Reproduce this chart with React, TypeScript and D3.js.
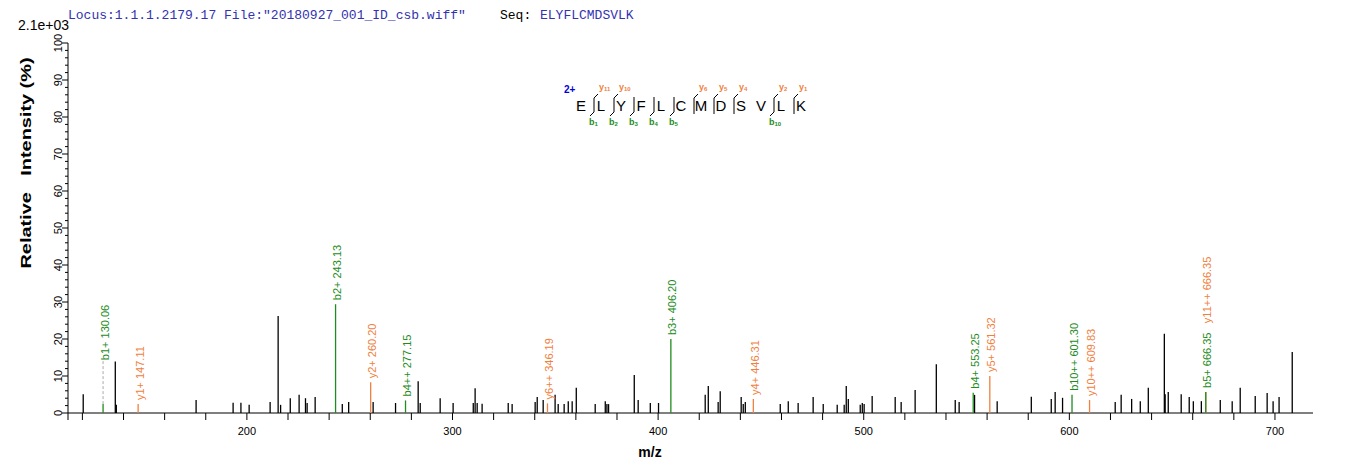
import React from "react";
import * as d3 from "d3";

const W = 1362;
const H = 473;

// unannotated peaks: m/z and relative intensity (%)
const peakMz = [
  120.4, 136.0, 136.5, 175.3, 193.3, 197.1, 201.1, 211.3, 215.2, 216.4, 221.1, 225.4, 228.5, 229.3, 233.2,
  246.4, 249.5, 261.4, 272.3, 283.3, 284.3, 294.0, 300.3, 310.1, 311.0, 312.0, 314.4, 327.1, 329.0,
  340.2, 341.2, 344.1, 349.9, 351.4, 354.3, 356.3, 358.2, 360.2, 369.4, 374.3, 375.1, 375.9, 388.4,
  390.3, 396.2, 400.2, 422.9, 424.4, 429.2, 430.2, 440.4, 441.4, 442.4, 459.4, 463.3, 468.1, 475.4,
  480.3, 487.1, 490.5, 491.5, 492.5, 498.3, 499.3, 500.2, 504.1, 515.3, 518.2, 525.0, 535.3, 544.5,
  546.4, 553.9, 564.9, 581.5, 591.2, 593.1, 596.7, 622.3, 625.2, 630.3, 634.5, 638.4, 646.2, 646.6,
  648.1, 654.4, 658.3, 660.3, 664.2, 673.4, 679.2, 683.1, 690.4, 696.2, 699.1, 702.0, 708.4,
];
const peakInt = [
  5.1, 13.9, 2.2, 3.5, 2.8, 2.8, 2.2, 3.0, 26.2, 2.2, 4.0, 4.9, 4.0, 2.7, 4.3,
  2.4, 3.0, 3.0, 2.7, 8.6, 2.7, 4.0, 2.7, 2.7, 6.7, 2.7, 2.5, 2.7, 2.4,
  3.0, 4.3, 3.5, 4.9, 2.4, 2.4, 3.2, 3.2, 6.8, 2.4, 3.2, 2.4, 2.4, 10.3,
  3.5, 2.7, 2.7, 4.9, 7.3, 3.0, 5.9, 4.3, 2.4, 3.0, 2.4, 3.2, 2.7, 4.3,
  2.4, 2.2, 2.2, 7.3, 3.8, 2.2, 2.7, 2.4, 4.6, 4.3, 3.0, 6.2, 13.2, 3.5,
  3.0, 4.9, 3.2, 4.4, 3.8, 5.7, 4.1, 3.0, 4.9, 3.8, 3.2, 6.8, 21.4, 5.1,
  5.7, 5.1, 4.3, 3.2, 3.2, 3.5, 3.2, 6.8, 4.6, 5.4, 3.2, 4.3, 16.5,
];

// annotated fragment ions
const ionNames = ["b1+", "y1+", "b2+", "y2+", "b4++", "y6++", "b3+", "y4+", "b4+", "y5+", "b10++", "y10++", "y11++", "b5+"];
const ionMz = [130.06, 147.11, 243.13, 260.2, 277.15, 346.19, 406.2, 446.31, 553.25, 561.32, 601.3, 609.83, 666.35, 666.35];
const ionInt = [2.4, 2.4, 29.4, 8.3, 3.4, 2.6, 20.0, 3.8, 5.5, 10.0, 4.9, 3.5, 5.7, 5.7];
// label start level (%) when the label is lifted above its peak (null = right above peak)
const ionLabelAt: (number | null)[] = [13.2, null, null, null, null, null, null, null, null, null, null, null, 23.2, null];

const xTicks = [200, 300, 400, 500, 600, 700];
const yTicks = [0, 10, 20, 30, 40, 50, 60, 70, 80, 90, 100];

const sequence = "ELYFLCMDSVLK".split("");
const bIons = [1, 2, 3, 4, 5, 10];
const yIons = [11, 10, 6, 5, 4, 2, 1];

const GREEN = "#1e8c1e";
const ORANGE = "#f08040";
const BLUE = "#3333b0";

export default function App() {
  const x = d3.scaleLinear().domain([113, 718.5]).range([68, 1313]);
  const y = d3.scaleLinear().domain([0, 100]).range([413, 43]);
  const minorX = d3.range(120, 719, 20);
  const minorY = d3.range(0, 101, 2);

  const seqX0 = 581;
  const seqStep = 20;
  const n = sequence.length;
  const cleavages = d3.range(1, n).map((i) => ({
    i,
    b: bIons.find((k) => k === i),
    y: yIons.find((k) => n - k === i),
  }));

  return (
    <svg
      width={W}
      height={H}
      style={{ position: "absolute", left: 0, top: 0, background: "#fff" }}
      fontFamily="Arial, 'Liberation Sans', sans-serif"
    >
      <rect width={W} height={H} fill="#fff" />
      {/* header */}
      <text x={68} y={19} fontFamily="'Liberation Mono', monospace" fontSize={13} fill={BLUE}>
        {'Locus:1.1.1.2179.17 File:"20180927_001_ID_csb.wiff"'}
      </text>
      <text x={500} y={19} fontFamily="'Liberation Mono', monospace" fontSize={13} fill="#000">
        Seq:
      </text>
      <text x={540} y={19} fontFamily="'Liberation Mono', monospace" fontSize={13} fill={BLUE}>
        ELYFLCMDSVLK
      </text>
      <text x={18} y={30} fontSize={14} fill="#000">
        2.1e+03
      </text>

      {/* y axis */}
      <line x1={68} x2={68} y1={y(100)} y2={420} stroke="#000" />
      {minorY.map((v) => (
        <line key={"my" + v} x1={v % 10 === 0 ? 62 : 65} x2={68} y1={y(v)} y2={y(v)} stroke="#000" />
      ))}
      {yTicks.map((v) => (
        <text
          key={"ty" + v}
          transform={`translate(62,${y(v)}) rotate(-90)`}
          textAnchor="middle"
          fontSize={11}
          fill="#000"
        >
          {v}
        </text>
      ))}
      <text
        transform="translate(31,163) rotate(-90)"
        textAnchor="middle"
        fontSize={14}
        fontWeight="bold"
        textLength={211}
        lengthAdjust="spacingAndGlyphs"
        style={{ whiteSpace: "pre" }}
      >
        {"Relative   Intensity (%)"}
      </text>

      {/* x axis */}
      <line x1={68} x2={1313} y1={413} y2={413} stroke="#000" />
      {minorX.map((v) => (
        <line key={"mx" + v} x1={x(v)} x2={x(v)} y1={413} y2={420} stroke="#000" />
      ))}
      {xTicks.map((v) => (
        <text key={"tx" + v} x={x(v)} y={435} textAnchor="middle" fontSize={11} fill="#000">
          {v}
        </text>
      ))}
      <text x={650} y={457} textAnchor="middle" fontSize={14} fontWeight="bold">
        m/z
      </text>

      {/* peaks */}
      {peakMz.map((m, k) => (
        <line key={"p" + k} x1={x(m)} x2={x(m)} y1={y(0)} y2={y(peakInt[k])} stroke="#000" strokeWidth={1.3} />
      ))}
      {ionMz.map((m, k) => {
        const col = ionNames[k].startsWith("b") ? GREEN : ORANGE;
        const px = x(m);
        const lab = ionLabelAt[k];
        const base = (lab == null ? y(ionInt[k]) : y(lab)) - 4;
        return (
          <g key={"ion" + k}>
            <line x1={px} x2={px} y1={y(0)} y2={y(ionInt[k])} stroke={col} strokeWidth={1.3} />
            {lab != null && k === 0 && (
              <line x1={px} x2={px} y1={y(ionInt[k])} y2={base} stroke="#aaa" strokeDasharray="3,2" />
            )}
            <text transform={`translate(${px + 5.5},${base}) rotate(-90)`} fontSize={11} fill={col}>
              {`${ionNames[k]} ${m.toFixed(2)}`}
            </text>
          </g>
        );
      })}

      {/* fragmentation diagram */}
      <text x={564} y={93} fontSize={10} fontWeight="bold" fill="#0000dd">
        2+
      </text>
      {sequence.map((c, k) => (
        <text key={"s" + k} x={seqX0 + seqStep * k} y={111} textAnchor="middle" fontSize={15} fill="#000">
          {c}
        </text>
      ))}
      {cleavages
        .filter((c) => c.b || c.y)
        .map((c) => {
          const mx = seqX0 + seqStep * c.i - 7;
          let d = "";
          if (c.y && c.b) d = `M${mx + 4},94 L${mx},98 L${mx},112 L${mx - 4},116`;
          else if (c.y) d = `M${mx + 4},94 L${mx},98 L${mx},114`;
          else d = `M${mx},97 L${mx},112 L${mx - 4},116`;
          return (
            <g key={"c" + c.i}>
              <path d={d} fill="none" stroke="#000" strokeWidth={1} />
              {c.y && (
                <text x={mx + 5} y={90} fontSize={9} fontWeight="bold" fill={ORANGE}>
                  y<tspan fontSize={6} dy={1}>{c.y}</tspan>
                </text>
              )}
              {c.b && (
                <text x={mx - 5} y={125} fontSize={9} fontWeight="bold" fill={GREEN}>
                  b<tspan fontSize={6} dy={1}>{c.b}</tspan>
                </text>
              )}
            </g>
          );
        })}
    </svg>
  );
}
